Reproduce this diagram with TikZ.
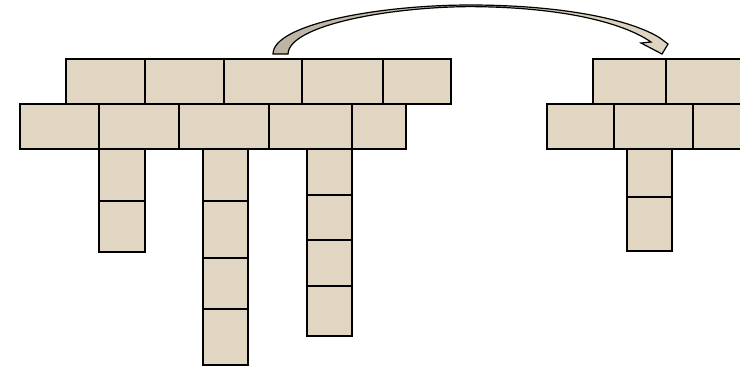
\documentclass[tikz,border=0pt]{standalone}
\usepackage{xcolor}
\definecolor{brickfill}{HTML}{E1D6C2}
\definecolor{arrowdark}{HTML}{BCB3A2}
\tikzset{brick/.style={draw=black, fill=brickfill, line width=1.6pt}}
\begin{document}
\begin{tikzpicture}[x=1pt, y=-1pt]
	\useasboundingbox (0,0) rectangle (740,368);
	% left wall
	\foreach \xa/\xb/\ya/\yb in {
			66/145/59/104, 145/224/59/104, 224/302/59/104, 302/383/59/104, 383/451/59/104,
			20/99/104/149, 99/179/104/149, 179/269/104/149, 269/352/104/149, 352/406/104/149,
			99/145/149/201, 99/145/201/252,
			203/248/149/201, 203/248/201/258, 203/248/258/309, 203/248/309/365,
			307/352/149/195, 307/352/195/240, 307/352/240/286, 307/352/286/336
		} {
			\draw[brick] (\xa,\ya) rectangle (\xb,\yb);
		}
	% right wall
	\foreach \xa/\xb/\ya/\yb in {
			593/666/59/104, 666/741/59/104,
			547/614/104/149, 614/693/104/149, 693/741/104/149,
			627/672/149/197, 627/672/197/251
		} {
			\draw[brick] (\xa,\ya) rectangle (\xb,\yb);
		}
	% curved arrow
	\shade[left color=arrowdark, right color=brickfill, draw=black, line width=1.2pt, line join=miter]
		(273,54) .. controls (273,24) and (380,5) .. (470,5)
		.. controls (560,5) and (630,19) .. (660,38)
		-- (668,44) -- (662,54) -- (641,43) -- (651,42)
		.. controls (622,22) and (560,7) .. (470,6.6)
		.. controls (390,7) and (289,25) .. (288,54) -- cycle;
\end{tikzpicture}
\end{document}
